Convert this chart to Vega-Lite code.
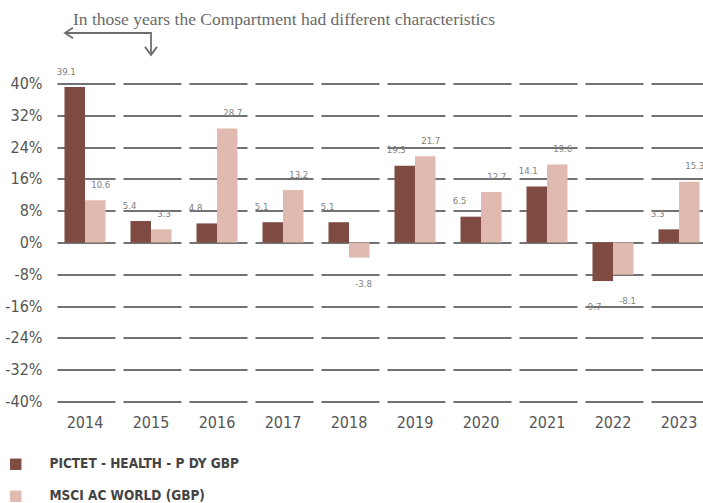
{
  "$schema": "https://vega.github.io/schema/vega-lite/v6.json",
  "width": 651,
  "height": 318,
  "autosize": {"type": "none"},
  "padding": {"left": 52, "top": 83.5, "right": 0, "bottom": 101.5},
  "background": "white",
  "config": {
    "view": {"stroke": null},
    "font": "'DejaVu Sans Condensed', 'Roboto Condensed', Roboto, sans-serif",
    "axisY": {"labelOverlap": false}
  },
  "datasets": {
    "returns": [
      {"year": "2014", "series": "PICTET - HEALTH - P DY GBP", "value": 39.1},
      {"year": "2014", "series": "MSCI AC WORLD (GBP)", "value": 10.6},
      {"year": "2015", "series": "PICTET - HEALTH - P DY GBP", "value": 5.4},
      {"year": "2015", "series": "MSCI AC WORLD (GBP)", "value": 3.3},
      {"year": "2016", "series": "PICTET - HEALTH - P DY GBP", "value": 4.8},
      {"year": "2016", "series": "MSCI AC WORLD (GBP)", "value": 28.7},
      {"year": "2017", "series": "PICTET - HEALTH - P DY GBP", "value": 5.1},
      {"year": "2017", "series": "MSCI AC WORLD (GBP)", "value": 13.2},
      {"year": "2018", "series": "PICTET - HEALTH - P DY GBP", "value": 5.1},
      {"year": "2018", "series": "MSCI AC WORLD (GBP)", "value": -3.8},
      {"year": "2019", "series": "PICTET - HEALTH - P DY GBP", "value": 19.3},
      {"year": "2019", "series": "MSCI AC WORLD (GBP)", "value": 21.7},
      {"year": "2020", "series": "PICTET - HEALTH - P DY GBP", "value": 6.5},
      {"year": "2020", "series": "MSCI AC WORLD (GBP)", "value": 12.7},
      {"year": "2021", "series": "PICTET - HEALTH - P DY GBP", "value": 14.1},
      {"year": "2021", "series": "MSCI AC WORLD (GBP)", "value": 19.6},
      {"year": "2022", "series": "PICTET - HEALTH - P DY GBP", "value": -9.7},
      {"year": "2022", "series": "MSCI AC WORLD (GBP)", "value": -8.1},
      {"year": "2023", "series": "PICTET - HEALTH - P DY GBP", "value": 3.3},
      {"year": "2023", "series": "MSCI AC WORLD (GBP)", "value": 15.3}
    ],
    "arrow": [
      {"ax": 0.197, "value": 52.7, "k": 1},
      {"ax": 1.5, "value": 52.7, "k": 2},
      {"ax": 1.5, "value": 47.2, "k": 3}
    ],
    "heads": [
      {"ax": 0.197, "value": 52.7, "dir": "left"},
      {"ax": 1.5, "value": 47.2, "dir": "down"}
    ],
    "note": [
      {"ax": 0.318, "value": 54.7, "label": "In those years the Compartment had different characteristics"}
    ]
  },
  "layer": [
    {
      "data": {"name": "returns"},
      "encoding": {
        "x": {
          "field": "year", "type": "nominal", "title": null,
          "scale": {"range": [0, 660], "paddingInner": 0.3788, "paddingOuter": 0.1894},
          "axis": {"domain": false, "ticks": false, "labelPadding": 13, "labelFontSize": 16, "labelColor": "#555555", "labelAngle": 0}
        },
        "xOffset": {"field": "series", "type": "nominal", "sort": ["PICTET - HEALTH - P DY GBP", "MSCI AC WORLD (GBP)"], "scale": {"paddingInner": 0, "paddingOuter": 0}},
        "y": {
          "field": "value", "type": "quantitative", "title": null,
          "scale": {"domain": [-40, 40], "nice": false},
          "axis": {"values": [-40, -32, -24, -16, -8, 0, 8, 16, 24, 32, 40], "labelExpr": "datum.value + '%'", "labelOverlap": false, "labelSeparation": 0, "domain": false, "ticks": false, "labelPadding": 10, "labelFontSize": 16, "labelColor": "#555555", "grid": true, "gridColor": "#444444", "gridWidth": 1.5, "gridDash": [58, 8], "gridDashOffset": 61}
        }
      },
      "layer": [
        {
          "mark": {"type": "bar"},
          "encoding": {
            "color": {
              "field": "series", "type": "nominal",
              "scale": {"domain": ["PICTET - HEALTH - P DY GBP", "MSCI AC WORLD (GBP)"], "range": ["#7e4a41", "#e0bab0"]},
              "legend": {"title": null, "orient": "none", "legendX": -43, "legendY": 374, "direction": "vertical", "symbolType": "square", "symbolSize": 130, "symbolStrokeWidth": 0, "labelFontWeight": "bold", "labelFontSize": 13.5, "labelColor": "#444444", "labelOffset": 27, "rowPadding": 17, "labelLimit": 400}
            }
          }
        },
        {
          "transform": [{"filter": "datum.series == 'PICTET - HEALTH - P DY GBP' && datum.value >= 0"}],
          "mark": {"type": "text", "align": "left", "baseline": "middle", "dx": -18, "dy": -15.5, "fontSize": 9.5, "color": "#808080"},
          "encoding": {"text": {"field": "value", "type": "nominal"}}
        },
        {
          "transform": [{"filter": "datum.series == 'PICTET - HEALTH - P DY GBP' && datum.value < 0"}],
          "mark": {"type": "text", "align": "left", "baseline": "middle", "dx": -18, "dy": 26, "fontSize": 9.5, "color": "#808080"},
          "encoding": {"text": {"field": "value", "type": "nominal"}}
        },
        {
          "transform": [{"filter": "datum.series == 'MSCI AC WORLD (GBP)' && datum.value >= 0"}],
          "mark": {"type": "text", "align": "left", "baseline": "middle", "dx": -4, "dy": -15.5, "fontSize": 9.5, "color": "#808080"},
          "encoding": {"text": {"field": "value", "type": "nominal"}}
        },
        {
          "transform": [{"filter": "datum.series == 'MSCI AC WORLD (GBP)' && datum.value < 0"}],
          "mark": {"type": "text", "align": "left", "baseline": "middle", "dx": -4, "dy": 26, "fontSize": 9.5, "color": "#808080"},
          "encoding": {"text": {"field": "value", "type": "nominal"}}
        }
      ]
    },
    {
      "encoding": {
        "x": {"field": "ax", "type": "quantitative", "scale": {"domain": [0, 10], "range": [0, 660]}, "axis": null},
        "y": {"field": "value", "type": "quantitative", "title": null, "scale": {"domain": [-40, 40], "nice": false}, "axis": null}
      },
      "layer": [
        {
          "data": {"name": "arrow"},
          "mark": {"type": "line", "color": "#6e6e6e", "strokeWidth": 1.8},
          "encoding": {"order": {"field": "k", "type": "quantitative"}}
        },
        {
          "data": {"name": "heads"},
          "mark": {"type": "point", "filled": false, "color": "#6e6e6e", "strokeWidth": 1.8, "size": 256, "opacity": 1},
          "encoding": {
            "shape": {"field": "dir", "type": "nominal", "scale": {"domain": ["left", "down"], "range": ["M1,-0.65L0,0L1,0.65", "M-0.75,-1L0,0L0.75,-1"]}, "legend": null}
          }
        },
        {
          "data": {"name": "note"},
          "mark": {"type": "text", "align": "left", "baseline": "alphabetic", "font": "Liberation Serif", "fontSize": 17.5, "color": "#6a6a6a"},
          "encoding": {"text": {"field": "label", "type": "nominal"}}
        }
      ]
    }
  ],
  "resolve": {"scale": {"x": "independent"}, "axis": {"y": "independent"}}
}
